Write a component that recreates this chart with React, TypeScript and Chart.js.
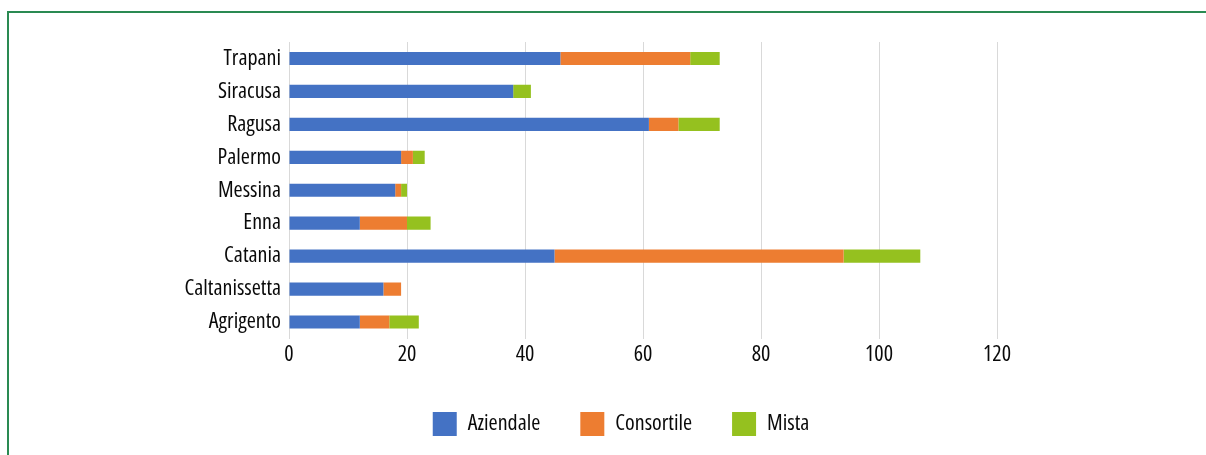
import React, { useEffect, useRef } from "react";
import { Chart, registerables } from "chart.js";

Chart.register(...registerables);

const categories = ["Agrigento", "Caltanissetta", "Catania", "Enna", "Messina", "Palermo", "Ragusa", "Siracusa", "Trapani"];
const aziendale = [12, 16, 45, 12, 18, 19, 61, 38, 46];
const consortile = [5, 3, 49, 8, 1, 2, 5, 0, 22];
const mista = [5, 0, 13, 4, 1, 2, 7, 3, 5];
const seriesNames = ["Aziendale", "Consortile", "Mista"];
const xTicks = [0, 20, 40, 60, 80, 100, 120];

const FONT = "'Open Sans', 'DejaVu Sans', sans-serif";
const FS = 22;

const condensed = {
  id: "condensed",
  beforeInit(c: any) { c.ctx.fontStretch = "condensed"; },
  beforeUpdate(c: any) { c.ctx.fontStretch = "condensed"; },
  beforeLayout(c: any) { c.ctx.fontStretch = "condensed"; },
  beforeDraw(c: any) {
    c.ctx.fontStretch = "condensed";
    if (c.legend) {
      c.legend.fit();
      c.ctx.fontStretch = "condensed";
    }
  },
};

export default function App() {
  const ref = useRef<HTMLCanvasElement | null>(null);

  useEffect(() => {
    if (!ref.current) return;
    const chart = new Chart(ref.current, {
      type: "bar",
      data: {
        labels: categories,
        datasets: [
          { label: seriesNames[0], data: aziendale, backgroundColor: "#4472C4", xAxisID: "x", yAxisID: "y" },
          { label: seriesNames[1], data: consortile, backgroundColor: "#ED7D31", xAxisID: "x", yAxisID: "y" },
          { label: seriesNames[2], data: mista, backgroundColor: "#95C11F", xAxisID: "x", yAxisID: "y" },
        ],
      },
      plugins: [condensed],
      options: {
        indexAxis: "y",
        animation: false,
        responsive: false,
        maintainAspectRatio: false,
        datasets: { bar: { barPercentage: 0.4, categoryPercentage: 1 } },
        layout: { padding: { left: 36, right: 0, top: 42, bottom: 9 } },
        font: { family: FONT, size: FS },
        color: "#0a0a0a",
        scales: {
          y: {
            type: "category",
            position: "left",
            reverse: true,
            stacked: true,
            grid: { display: false, drawTicks: false },
            border: { display: true, color: "#d9d9d9", width: 1 },
            ticks: { color: "#0a0a0a", padding: 8, font: { family: FONT, size: FS } },
            afterFit: (s: any) => { s.width = 253; },
          },
          yRight: {
            type: "category",
            axis: "y",
            position: "right",
            display: true,
            grid: { display: false, drawTicks: false },
            border: { display: false },
            ticks: { display: false },
            afterFit: (s: any) => { s.width = 209; },
          },
          x: {
            type: "linear",
            position: "bottom",
            stacked: true,
            min: 0,
            max: 120,
            afterBuildTicks: (s: any) => { s.ticks = xTicks.map((v) => ({ value: v })); },
            grid: { color: "#d9d9d9", lineWidth: 1, drawTicks: false },
            border: { display: false },
            ticks: { color: "#0a0a0a", padding: 3, font: { family: FONT, size: FS } },
            afterFit: (s: any) => { s.height = 33.5; },
          },
        } as any,
        plugins: {
          legend: {
            position: "bottom",
            align: "center",
            labels: {
              boxWidth: 24,
              boxHeight: 24,
              padding: 40,
              color: "#0a0a0a",
              font: { family: FONT, size: FS },
            },
          },
          tooltip: { enabled: false },
        },
      },
    });
    return () => chart.destroy();
  }, []);

  return (
    <div style={{ position: "fixed", left: 0, top: 0, width: 1206, height: 455, overflow: "hidden", background: "#fff" }}>
      <div
        style={{
          position: "absolute",
          left: 7,
          top: 11,
          width: 1300,
          height: 600,
          borderTop: "2px solid #2a8a52",
          borderLeft: "2px solid #2a8a52",
          boxSizing: "border-box",
        }}
      />
      <canvas ref={ref} width={1206} height={455} style={{ position: "absolute", left: 0, top: 0, width: 1206, height: 455 }} />
    </div>
  );
}
